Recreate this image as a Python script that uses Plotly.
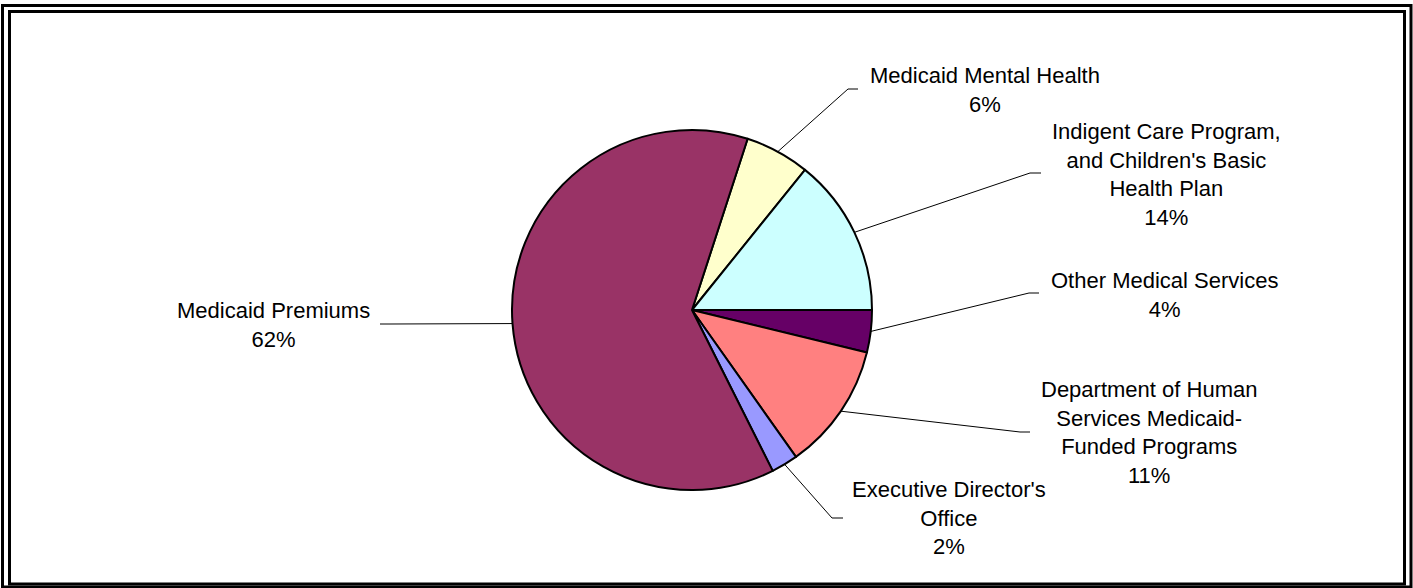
import math
import plotly.graph_objects as go

# ---- data ----
categories = [
    "Medicaid Mental Health",
    "Indigent Care Program,<br>and Children's Basic<br>Health Plan",
    "Other Medical Services",
    "Department of Human<br>Services Medicaid-<br>Funded Programs",
    "Executive Director's<br>Office",
    "Medicaid Premiums",
]
values = [5.8, 14.2, 3.8, 11.4, 2.4, 62.4]
colors = ["#FFFFCC", "#CCFFFF", "#660066", "#FF8080", "#9999FF", "#993366"]

# ---- layout constants (pixels) ----
W, H = 1413, 588
CX, CY, R = 692, 310, 180
ROTATION = 18
# label block centres and leader-line elbows (layout)
label_pos = [(985, 89.5), (1166, 174.5), (1164, 294.5), (1149, 432), (949, 518), (273, 324.5)]
elbows = [((848, 89), (858, 89)), ((1030, 173), (1041, 173)), ((1029, 293), (1039, 293)),
          ((1020, 432), (1030, 432)), ((832, 518), (843, 518)), ((390, 324), (380, 324))]


def px(x):
    return x / W


def py(y):
    return 1 - y / H


fig = go.Figure(go.Pie(
    labels=[c.replace("<br>", " ") for c in categories],
    values=values,
    sort=False,
    direction="clockwise",
    rotation=ROTATION,
    marker=dict(colors=colors, line=dict(color="black", width=2)),
    textinfo="none",
    hoverinfo="label+percent",
    domain=dict(x=[px(CX - R), px(CX + R)], y=[py(CY + R), py(CY - R)]),
    showlegend=False,
))

total = sum(values)
shapes = []
annotations = []
cum = 0
for i, (cat, v) in enumerate(zip(categories, values)):
    mid = ROTATION + 360 * (cum + v / 2) / total
    cum += v
    a = math.radians(mid)
    sx = CX + R * math.sin(a)
    sy = CY - R * math.cos(a)
    (ex, ey), (hx, hy) = elbows[i]
    shapes.append(dict(type="line", xref="paper", yref="paper",
                       x0=px(sx), y0=py(sy), x1=px(ex), y1=py(ey),
                       line=dict(color="black", width=1)))
    shapes.append(dict(type="line", xref="paper", yref="paper",
                       x0=px(ex), y0=py(ey), x1=px(hx), y1=py(hy),
                       line=dict(color="black", width=1)))
    pct = round(v / total * 100)
    lx, ly = label_pos[i]
    annotations.append(dict(
        x=px(lx), y=py(ly), xref="paper", yref="paper",
        text=f"{cat}<br>{pct}%", showarrow=False,
        xanchor="center", yanchor="middle", align="center",
        font=dict(family="Liberation Sans, Arial, sans-serif", size=22, color="black"),
    ))

# double frame
shapes.append(dict(type="rect", xref="paper", yref="paper",
                   x0=px(2.5), y0=py(587), x1=px(1411), y1=py(5.5),
                   line=dict(color="black", width=3)))
shapes.append(dict(type="rect", xref="paper", yref="paper",
                   x0=px(9.5), y0=py(584), x1=px(1404.5), y1=py(11.5),
                   line=dict(color="black", width=3)))

fig.update_layout(
    width=W, height=H,
    margin=dict(l=0, r=0, t=0, b=0),
    paper_bgcolor="white", plot_bgcolor="white",
    shapes=shapes, annotations=annotations,
)

fig.write_html("out.html")
